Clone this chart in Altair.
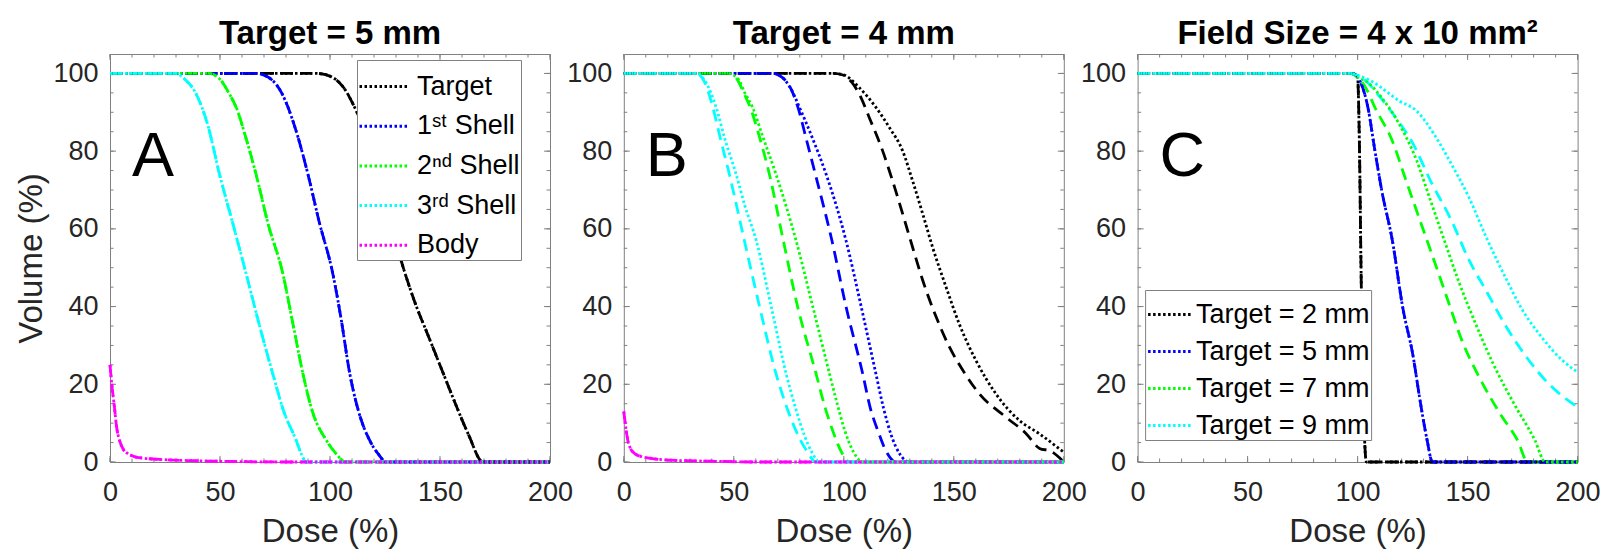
import altair as alt
import pandas as pd

FONT = "Liberation Sans"
TXT = "#262626"
FRAME = "#808080"
W, H = 440, 408

X_TICKS = [0, 50, 100, 150, 200]
Y_TICKS = [0, 20, 40, 60, 80, 100]
X_MINOR = [0, 10, 20, 30, 40, 50, 60, 70, 80, 90, 100, 110, 120, 130, 140, 150, 160, 170, 180, 190, 200]
Y_MINOR = [0, 5, 10, 15, 20, 25, 30, 35, 40, 45, 50, 55, 60, 65, 70, 75, 80, 85, 90, 95, 100]

BLACK, BLUE, GREEN, CYAN, MAGENTA = "#000000", "#0000FF", "#00FF00", "#00FFFF", "#FF00FF"

# ---------------- Panel A (Target = 5 mm) ----------------
A_NAMES = ["Target", "1ˢᵗ Shell", "2ⁿᵈ Shell", "3ʳᵈ Shell", "Body"]
A_COLORS = [BLACK, BLUE, GREEN, CYAN, MAGENTA]
A_TGT_DOSE = [0, 94, 100, 106, 112, 118, 125, 132, 138, 145, 151, 157, 163, 169.5, 200]
A_TGT_VOL = [100, 100, 99.3, 96.5, 90.3, 82, 68, 52.5, 42, 32, 23.5, 15, 7, 0, 0]
A_S1_DOSE = [0, 66, 72, 78, 84.6, 90, 95, 101.3, 105, 109, 113, 118, 122, 125.5, 200]
A_S1_VOL = [100, 100, 99, 95, 85.2, 74, 62, 48.4, 37, 22.7, 13, 5.6, 2, 0, 0]
A_S2_DOSE = [0, 45, 50, 54, 57.4, 62, 66.4, 72, 78.6, 83, 87.7, 92, 98.3, 103, 107, 200]
A_S2_VOL = [100, 100, 98.5, 95, 91.2, 83, 74, 61, 48.4, 36, 22.7, 13, 5.6, 2, 0, 0]
A_S3_DOSE = [0, 30, 34, 38.4, 44.3, 49.8, 56, 61.9, 68, 74, 79, 84.6, 87, 89, 200]
A_S3_VOL = [100, 100, 98.5, 95.5, 87, 74, 61, 48.4, 35, 22.7, 13, 5.6, 2, 0, 0]
A_BODY_DOSE = [0, 1, 2, 3, 4.3, 6, 8, 11, 15, 25, 40, 60, 80, 200]
A_BODY_VOL = [25, 19, 14.2, 9, 5.6, 3.3, 2.2, 1.4, 1, 0.6, 0.3, 0.1, 0, 0]

# ---------------- Panel B (Target = 4 mm) ----------------
B_NAMES = ["Target", "1st", "2nd", "3rd", "Body"]
B_COLORS = [BLACK, BLUE, GREEN, CYAN, MAGENTA]
B_TGT_DOT_DOSE = [0, 95, 99.6, 107.1, 114.7, 120.8, 126.8, 131.3, 135.9, 140.4, 146.5, 152.5, 160.1, 169.2, 179.8, 188.8, 200]
B_TGT_DOT_VOL = [100, 100, 99.7, 96.3, 91.2, 86, 80, 72.3, 63.8, 55.2, 45, 35.5, 26.1, 17.5, 10.7, 7.3, 2.5]
B_TGT_DASH_DOSE = [0, 95, 99.6, 103.5, 107.1, 111.6, 117.7, 122.2, 126.8, 131.3, 135.9, 142, 148, 154.1, 161.7, 173.8, 182.9, 189, 194, 200]
B_TGT_DASH_VOL = [100, 100, 99.6, 97.8, 94.6, 88.6, 80, 72.3, 63.8, 55.2, 46.7, 37.3, 29.6, 23.6, 17.5, 11.5, 7.3, 3.5, 2.8, 0]
B_S1_DOT_DOSE = [0, 67.7, 72, 76, 79.9, 86, 92, 101, 107.9, 114.6, 118, 121.5, 125.5, 129.8, 200]
B_S1_DOT_VOL = [100, 100, 99, 96, 91.2, 83, 74, 57, 40, 22.7, 14, 7, 2, 0, 0]
B_S1_DASH_DOSE = [0, 67.7, 72, 76, 79.2, 83, 87.1, 94.6, 101, 108.6, 112, 115.5, 119.5, 123.7, 200]
B_S1_DASH_VOL = [100, 100, 99, 96, 91.2, 83, 74, 57, 40, 22.7, 14, 8, 2.5, 0, 0]
B_S2_DOT_DOSE = [0, 47.3, 52, 55, 58.6, 63, 69.2, 78.3, 85.9, 93.5, 97, 100.5, 104.5, 108.6, 200]
B_S2_DOT_VOL = [100, 100, 98.5, 95, 91.2, 84, 74, 57, 40, 22.7, 15, 8, 2.5, 0, 0]
B_S2_DASH_DOSE = [0, 47.3, 51.5, 54.5, 57.5, 61.5, 66.2, 72.5, 79, 87.4, 91.5, 95, 99, 102.6, 200]
B_S2_DASH_VOL = [100, 100, 98.5, 95, 91.2, 84, 74, 57, 40, 22.7, 14, 8, 2.5, 0, 0]
B_S3_DOT_DOSE = [0, 32.9, 37, 42, 46, 51.1, 55, 60.2, 67, 73.8, 78, 82, 85.5, 89, 200]
B_S3_DOT_VOL = [100, 100, 98, 91.2, 83, 74, 66, 57, 40, 22.7, 14, 7, 2.5, 0, 0]
B_S3_DASH_DOSE = [0, 32.9, 36.5, 40.5, 44, 48, 54.8, 61.7, 69.2, 73.5, 78.3, 83, 87.4, 200]
B_S3_DASH_VOL = [100, 100, 98, 91.2, 83, 74, 57, 40, 22.7, 15, 8, 3, 0, 0]
B_BODY_DOSE = [0, 1, 1.8, 3, 4.9, 8, 11.7, 20, 40, 60, 200]
B_BODY_VOL = [13, 8.5, 5.6, 3.5, 2.2, 1.4, 1, 0.5, 0.2, 0, 0]

# ---------------- Panel C (Field Size = 4 x 10 mm2) ----------------
C_NAMES = ["Target = 2 mm", "Target = 5 mm", "Target = 7 mm", "Target = 9 mm"]
C_COLORS = [BLACK, BLUE, GREEN, CYAN]
C_T2_DOSE = [0, 97, 99, 100, 100.8, 101.6, 102.4, 103.2, 104, 200]
C_T2_VOL = [100, 100, 99.7, 99, 82.6, 48.4, 22.7, 5.6, 0, 0]
C_T5_DOSE = [0, 97, 100, 104.7, 107.9, 111, 115.8, 120.5, 125.3, 128.4, 131.6, 134, 200]
C_T5_VOL = [100, 100, 99, 91.2, 80, 69.8, 57, 39.8, 27, 15.8, 5.6, 0, 0]
C_T7_DOT_DOSE = [0, 97, 100, 105, 111, 119, 126.9, 133.2, 139.5, 145.8, 153.7, 161.6, 171.1, 180.6, 185.3, 200]
C_T7_DOT_VOL = [100, 100, 99, 97.5, 93.7, 86.9, 77.5, 67.2, 56.9, 46.7, 35.5, 25.3, 15, 5.6, 0, 0]
C_T7_DASH_DOSE = [0, 97, 100, 104, 107.9, 115.8, 122.1, 128.4, 134.8, 141.1, 147.4, 155.3, 164.8, 172.7, 177.4, 200]
C_T7_DASH_VOL = [100, 100, 99, 96, 91.2, 82.6, 72.3, 62.1, 51.8, 41.5, 31.3, 21.8, 12.4, 5.6, 0, 0]
C_T9_DOT_DOSE = [0, 97, 100, 106.3, 119, 126.9, 134.8, 142.7, 150.6, 158.5, 167.9, 174.2, 183.7, 193.2, 200]
C_T9_DOT_VOL = [100, 100, 99.5, 98, 92.9, 90.3, 84.3, 76.6, 68.1, 57.8, 46.7, 39.8, 32.1, 26.1, 23.1]
C_T9_DASH_DOSE = [0, 97, 100, 104, 107.9, 117.4, 125.3, 133.2, 142.7, 150.6, 158.5, 167.9, 177.4, 186.9, 200]
C_T9_DASH_VOL = [100, 100, 99.5, 98, 95.5, 88.6, 81.8, 72.3, 62.1, 52, 44, 34.5, 26.5, 20.1, 14.1]

PANEL_LETTER_DOSE = [10]
PANEL_LETTER_VOL = [73.5]


def frame(series):
    rows = []
    for k, (name, color, doses, vols) in enumerate(series):
        for d, v in zip(doses, vols):
            rows.append({"k": k, "name": name, "hex": color, "dose": d, "vol": v})
    return pd.DataFrame(rows)


def x_enc():
    return alt.X("dose:Q", scale=alt.Scale(domain=[0, 200], nice=False, zero=False),
                 axis=alt.Axis(values=X_TICKS, title="Dose (%)"))


def y_enc(with_title):
    if with_title:
        ax = alt.Axis(values=Y_TICKS, title="Volume (%)")
    else:
        ax = alt.Axis(values=Y_TICKS, title=None)
    return alt.Y("vol:Q", scale=alt.Scale(domain=[0, 105], nice=False, zero=False), axis=ax)


def tick_layers(X, Y):
    layers = []
    for vals, ln in ((X_MINOR, 3.5), (X_TICKS, 6)):
        d = pd.DataFrame({"dose": vals})
        layers.append(alt.Chart(d).mark_rule(color=FRAME, strokeWidth=1).encode(
            x=X, y=alt.value(H), y2=alt.value(H - ln)))
        layers.append(alt.Chart(d).mark_rule(color=FRAME, strokeWidth=1).encode(
            x=X, y=alt.value(0), y2=alt.value(ln)))
    for vals, ln in ((Y_MINOR, 3.5), (Y_TICKS, 6)):
        d = pd.DataFrame({"vol": vals})
        layers.append(alt.Chart(d).mark_rule(color=FRAME, strokeWidth=1).encode(
            y=Y, x=alt.value(0), x2=alt.value(ln)))
        layers.append(alt.Chart(d).mark_rule(color=FRAME, strokeWidth=1).encode(
            y=Y, x=alt.value(W), x2=alt.value(W - ln)))
    return layers


def panel(dot_series, dash_series, names, colors, title, letter, legend, ytitle):
    X = x_enc()
    Y = y_enc(ytitle)
    df_dash = frame(dash_series)
    df_dot = frame(dot_series)
    dash = alt.Chart(df_dash).mark_line(strokeDash=[12, 7], strokeWidth=2.8, interpolate="monotone").encode(
        x=X, y=Y, color=alt.Color("hex:N", scale=None), detail="k:N")
    dot = alt.Chart(df_dot).mark_line(strokeDash=[2.5, 2.5], strokeWidth=2.8, interpolate="monotone").encode(
        x=X, y=Y,
        color=alt.Color("name:N", scale=alt.Scale(domain=names, range=colors), legend=legend))
    lab = alt.Chart(pd.DataFrame({"dose": PANEL_LETTER_DOSE, "vol": PANEL_LETTER_VOL, "t": [letter]})).mark_text(
        align="left", baseline="alphabetic", fontSize=63, font=FONT, color="black").encode(
        x=X, y=Y, text="t:N")
    layers = tick_layers(X, Y) + [dash, dot, lab]
    return alt.layer(*layers).properties(width=W, height=H, title=title)


def leg(x, y, rowpad, symsize, pad, offset):
    return alt.Legend(orient="none", legendX=x, legendY=y, title=None, labelFont=FONT, labelFontSize=27,
                      labelColor="black", labelLimit=400, labelOffset=offset, symbolType="stroke",
                      symbolSize=symsize, symbolStrokeWidth=3, symbolDash=[2.5, 2.5], padding=pad,
                      rowPadding=rowpad, strokeColor=FRAME, fillColor="white", zindex=1)


A_SER = [
    (A_NAMES[0], BLACK, A_TGT_DOSE, A_TGT_VOL),
    (A_NAMES[1], BLUE, A_S1_DOSE, A_S1_VOL),
    (A_NAMES[2], GREEN, A_S2_DOSE, A_S2_VOL),
    (A_NAMES[3], CYAN, A_S3_DOSE, A_S3_VOL),
    (A_NAMES[4], MAGENTA, A_BODY_DOSE, A_BODY_VOL),
]
B_DOT = [
    (B_NAMES[0], BLACK, B_TGT_DOT_DOSE, B_TGT_DOT_VOL),
    (B_NAMES[1], BLUE, B_S1_DOT_DOSE, B_S1_DOT_VOL),
    (B_NAMES[2], GREEN, B_S2_DOT_DOSE, B_S2_DOT_VOL),
    (B_NAMES[3], CYAN, B_S3_DOT_DOSE, B_S3_DOT_VOL),
    (B_NAMES[4], MAGENTA, B_BODY_DOSE, B_BODY_VOL),
]
B_DASH = [
    (B_NAMES[0], BLACK, B_TGT_DASH_DOSE, B_TGT_DASH_VOL),
    (B_NAMES[1], BLUE, B_S1_DASH_DOSE, B_S1_DASH_VOL),
    (B_NAMES[2], GREEN, B_S2_DASH_DOSE, B_S2_DASH_VOL),
    (B_NAMES[3], CYAN, B_S3_DASH_DOSE, B_S3_DASH_VOL),
    (B_NAMES[4], MAGENTA, B_BODY_DOSE, B_BODY_VOL),
]
C_DOT = [
    (C_NAMES[0], BLACK, C_T2_DOSE, C_T2_VOL),
    (C_NAMES[1], BLUE, C_T5_DOSE, C_T5_VOL),
    (C_NAMES[2], GREEN, C_T7_DOT_DOSE, C_T7_DOT_VOL),
    (C_NAMES[3], CYAN, C_T9_DOT_DOSE, C_T9_DOT_VOL),
]
C_DASH = [
    (C_NAMES[0], BLACK, C_T2_DOSE, C_T2_VOL),
    (C_NAMES[1], BLUE, C_T5_DOSE, C_T5_VOL),
    (C_NAMES[2], GREEN, C_T7_DASH_DOSE, C_T7_DASH_VOL),
    (C_NAMES[3], CYAN, C_T9_DASH_DOSE, C_T9_DASH_VOL),
]

pa = panel(A_SER, A_SER, A_NAMES, A_COLORS, "Target = 5 mm", "A", leg(247, 6, 0.7, 2300, 1, 8), True)
pb = panel(B_DOT, B_DASH, B_NAMES, B_COLORS, "Target = 4 mm", "B", None, False)
pc = panel(C_DOT, C_DASH, C_NAMES, C_COLORS, "Field Size = 4 x 10 mm²", "C",
           leg(7.5, 236, 0, 1850, 1, 3), False)

chart = alt.hconcat(pa, pb, pc, spacing=73.8, bounds="flush").resolve_scale(
    color="independent"
).properties(
    padding={"left": 15, "top": 17, "right": 5, "bottom": 0}
).configure_axis(
    labelFont=FONT, labelFontSize=27, labelColor=TXT, titleFont=FONT, titleFontSize=33,
    titleColor=TXT, titleFontWeight="normal", ticks=False, tickSize=0, domain=False, grid=False,
    labelFlush=False, labelOverlap=False
).configure_axisX(labelPadding=17, titlePadding=10).configure_axisY(
    labelPadding=12, titlePadding=4
).configure_view(stroke=FRAME, strokeWidth=1).configure_title(
    font=FONT, fontSize=33, fontWeight="bold", color="black", anchor="middle", offset=3,
    baseline="alphabetic"
)

chart.save("out.html", embed_options={"renderer": "svg", "actions": False})
